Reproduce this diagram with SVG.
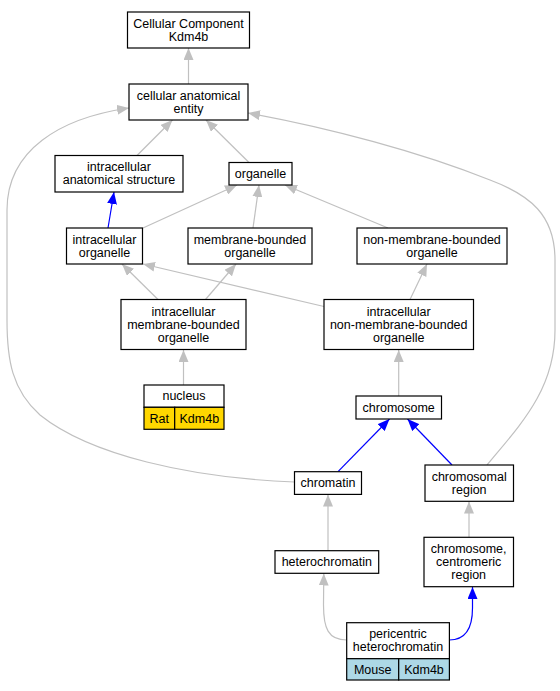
<svg xmlns="http://www.w3.org/2000/svg" width="560" height="691" viewBox="0 0 560 691">
<style>
.n rect{fill:#fff;stroke:#000;stroke-width:1.2}
.n text,.c text{font-family:"Liberation Sans",Arial,sans-serif;font-size:12.5px;text-anchor:middle;fill:#000}
.g{fill:none;stroke:#c0c0c0;stroke-width:1.2;marker-end:url(#ag)}
.b{fill:none;stroke:#0000ff;stroke-width:1.2;marker-end:url(#ab)}
.rat{fill:#ffd700 !important}
.mouse{fill:#add8e6 !important}
</style>
<defs>
<marker id="ag" viewBox="0 0 12 10" refX="12" refY="5" markerWidth="12" markerHeight="10" markerUnits="userSpaceOnUse" orient="auto"><path d="M0,0 L12,5 L0,10 z" fill="#c0c0c0"/></marker>
<marker id="ab" viewBox="0 0 12 10" refX="12" refY="5" markerWidth="12" markerHeight="10" markerUnits="userSpaceOnUse" orient="auto"><path d="M0,0 L12,5 L0,10 z" fill="#0000ff"/></marker>
</defs>
<rect width="560" height="691" fill="#fff"/>
<g id="connectors">
<path class="g" d="M188.5,84 L188.5,48"/>
<path class="g" d="M137,155.5 L172.5,120"/>
<path class="g" d="M249,162.5 L206,120"/>
<path class="b" d="M108,228 L114,192"/>
<path class="g" d="M143,228 L237,185"/>
<path class="g" d="M253,228 L259,185"/>
<path class="g" d="M388,228 L285,185"/>
<path class="g" d="M158,299.5 L122,264"/>
<path class="g" d="M205.5,299.5 L236,264"/>
<path class="g" d="M324,306.5 L143,264"/>
<path class="g" d="M410,299.5 L427,264"/>
<path class="g" d="M183.5,385 L183.5,350"/>
<path class="g" d="M398.7,396 L398.7,350"/>
<path class="b" d="M338,471.7 L389.5,419"/>
<path class="b" d="M452,465 L407.5,419"/>
<path class="g" d="M328,550.7 L328,494.5"/>
<path class="g" d="M469,537.3 L469,501.5"/>
<path class="g" d="M346.7,640 C328,640 323.5,628 323.5,605 L323.8,573.5"/>
<path class="b" d="M449.3,640 C466,640 472.5,628 472.5,608 L472.5,587"/>
<path class="g" d="M294.5,482 C190,478 90,455 40,415 C12,390 7,360 7,320 L7,210 C7,150 60,118 129,108"/>
<path class="g" d="M487,465 C520,425 555,390 555,330 L555,260 C555,215 530,195 490,180 C420,152 330,128 248,113"/>
</g>
<g id="n1" class="n"><rect x="127.5" y="12" width="122" height="36"/><text x="188.5" y="27.5">Cellular Component</text><text x="188.5" y="40.5">Kdm4b</text></g>
<g id="n2" class="n"><rect x="129" y="84" width="119" height="36"/><text x="188.5" y="99.5">cellular anatomical</text><text x="188.5" y="112.5">entity</text></g>
<g id="n3" class="n"><rect x="55" y="155.5" width="128" height="36.5"/><text x="119" y="171">intracellular</text><text x="119" y="184">anatomical structure</text></g>
<g id="n4" class="n"><rect x="229" y="162.5" width="63" height="22.5"/><text x="260.5" y="178">organelle</text></g>
<g id="n5" class="n"><rect x="66.5" y="228" width="76" height="36"/><text x="104.5" y="243.5">intracellular</text><text x="104.5" y="256.5">organelle</text></g>
<g id="n6" class="n"><rect x="188" y="228" width="124" height="36"/><text x="250" y="243.5">membrane-bounded</text><text x="250" y="256.5">organelle</text></g>
<g id="n7" class="n"><rect x="357" y="228" width="150" height="36"/><text x="432" y="243.5">non-membrane-bounded</text><text x="432" y="256.5">organelle</text></g>
<g id="n8" class="n"><rect x="121" y="299.5" width="125" height="50"/><text x="183.5" y="315.5">intracellular</text><text x="183.5" y="328.5">membrane-bounded</text><text x="183.5" y="341.5">organelle</text></g>
<g id="n9" class="n"><rect x="324" y="299.5" width="149.5" height="50"/><text x="398.7" y="315.5">intracellular</text><text x="398.7" y="328.5">non-membrane-bounded</text><text x="398.7" y="341.5">organelle</text></g>
<g id="n10" class="n"><rect x="144" y="385" width="80" height="22.3"/><rect class="rat" x="144" y="407.3" width="30.7" height="22"/><rect class="rat" x="174.7" y="407.3" width="49.3" height="22"/><text x="184" y="400">nucleus</text><text x="159.3" y="422.5">Rat</text><text x="199.3" y="422.5">Kdm4b</text></g>
<g id="n11" class="n"><rect x="356" y="396" width="85.5" height="23"/><text x="398.7" y="411.7">chromosome</text></g>
<g id="n12" class="n"><rect x="294.5" y="471.7" width="67" height="22.7"/><text x="328" y="487.2">chromatin</text></g>
<g id="n13" class="n"><rect x="425" y="465" width="88.5" height="36.3"/><text x="469.2" y="480.6">chromosomal</text><text x="469.2" y="493.6">region</text></g>
<g id="n14" class="n"><rect x="275" y="550.7" width="103.7" height="22.6"/><text x="326.8" y="566">heterochromatin</text></g>
<g id="n15" class="n"><rect x="424" y="537.3" width="89.5" height="49.4"/><text x="468.7" y="553">chromosome,</text><text x="468.7" y="566">centromeric</text><text x="468.7" y="579">region</text></g>
<g id="n16" class="n"><rect x="346.7" y="622.7" width="102.7" height="36"/><rect class="mouse" x="346.7" y="658.7" width="52" height="21.3"/><rect class="mouse" x="398.7" y="658.7" width="50.7" height="21.3"/><text x="398" y="638.2">pericentric</text><text x="398" y="651.2">heterochromatin</text><text x="372.7" y="673.5">Mouse</text><text x="424" y="673.5">Kdm4b</text></g>
</svg>
